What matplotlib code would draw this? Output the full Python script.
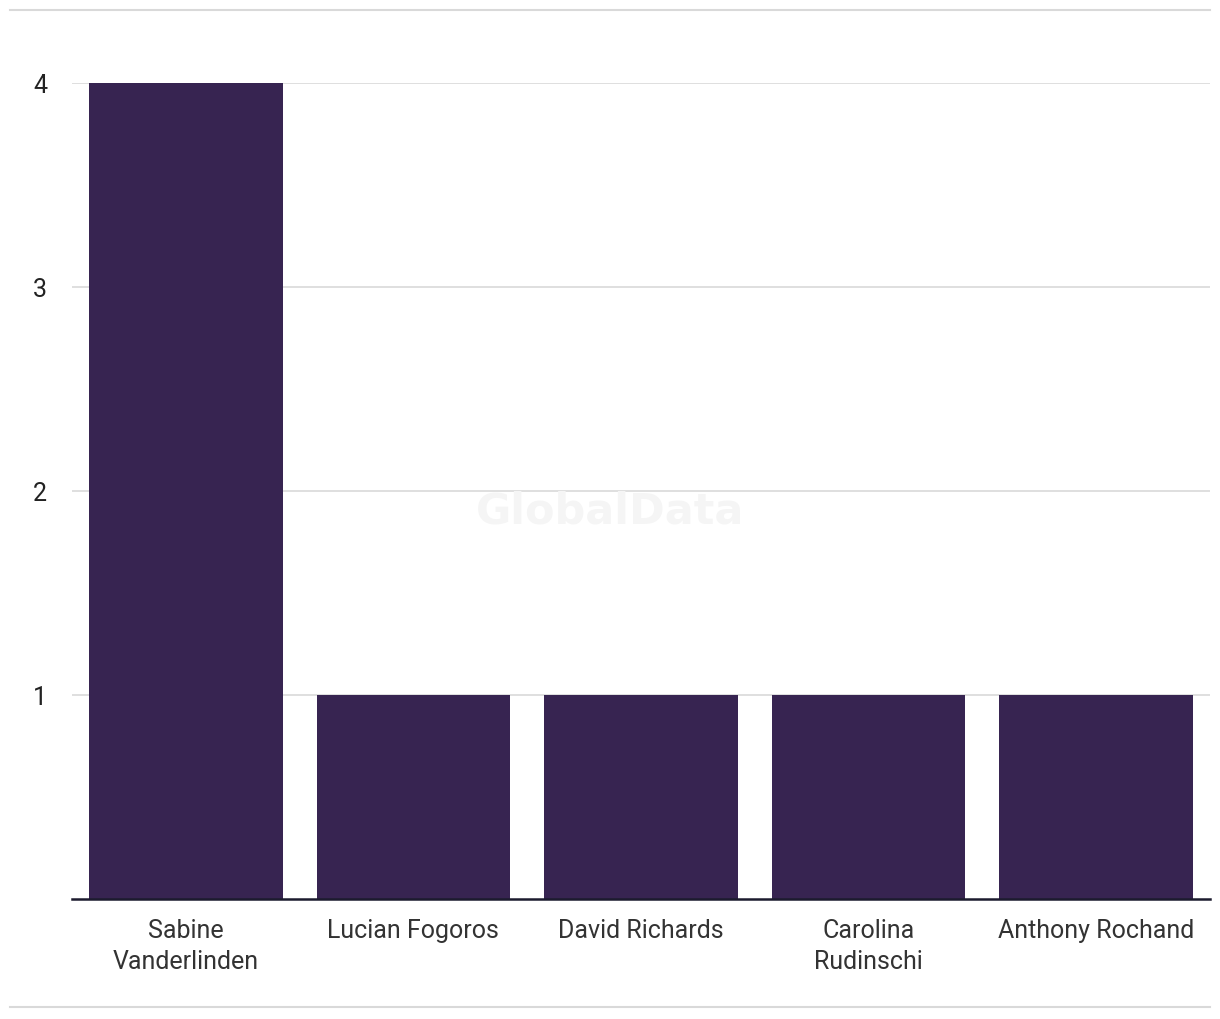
import matplotlib.pyplot as plt
from matplotlib.lines import Line2D

names = ["Sabine\nVanderlinden", "Lucian Fogoros", "David Richards",
         "Carolina\nRudinschi", "Anthony Rochand"]
counts = [4, 1, 1, 1, 1]
yticks = [1, 2, 3, 4]

bar_color = "#372451"

plt.rcParams["font.family"] = ["Roboto", "DejaVu Sans"]

fig = plt.figure(figsize=(12.2, 10.2), dpi=100)
ax = fig.add_axes([72 / 1220, 120 / 1020, 1138 / 1220, 816 / 1020])

x = range(len(names))
ax.bar(x, counts, width=0.85, color=bar_color, zorder=2)

ax.set_xlim(-0.5, len(names) - 0.5)
ax.set_ylim(0, 4)
ax.set_yticks(yticks)
ax.set_yticklabels([str(v) for v in yticks])
ax.set_xticks(list(x))
ax.set_xticklabels(names, linespacing=1.35)

ax.grid(axis="y", color="#d9d9d9", linewidth=1.2, zorder=0)
ax.set_axisbelow(True)
for side in ("top", "right", "left"):
    ax.spines[side].set_visible(False)
ax.spines["bottom"].set_color("#1c1b2e")
ax.spines["bottom"].set_linewidth(1.8)
ax.spines["bottom"].set_zorder(3)

ax.tick_params(axis="y", length=0, pad=18, labelsize=18, labelcolor="#222222")
ax.tick_params(axis="x", length=0, pad=14, labelsize=18, labelcolor="#333333")

# faint watermark
fig.text(610 / 1220, 1 - 512 / 1020, "GlobalData", ha="center", va="center",
         fontsize=31, fontweight="bold", color="#f5f5f5", zorder=1,
         family=["DejaVu Sans"])

# horizontal rules above and below the chart
fig.add_artist(Line2D([10 / 1220, 1210 / 1220], [1 - 11 / 1020] * 2,
                      color="#d9d9d9", linewidth=1.5))
fig.add_artist(Line2D([10 / 1220, 1210 / 1220], [1 - 1008 / 1020] * 2,
                      color="#d9d9d9", linewidth=1.5))

fig.savefig("out.png", dpi=100)
